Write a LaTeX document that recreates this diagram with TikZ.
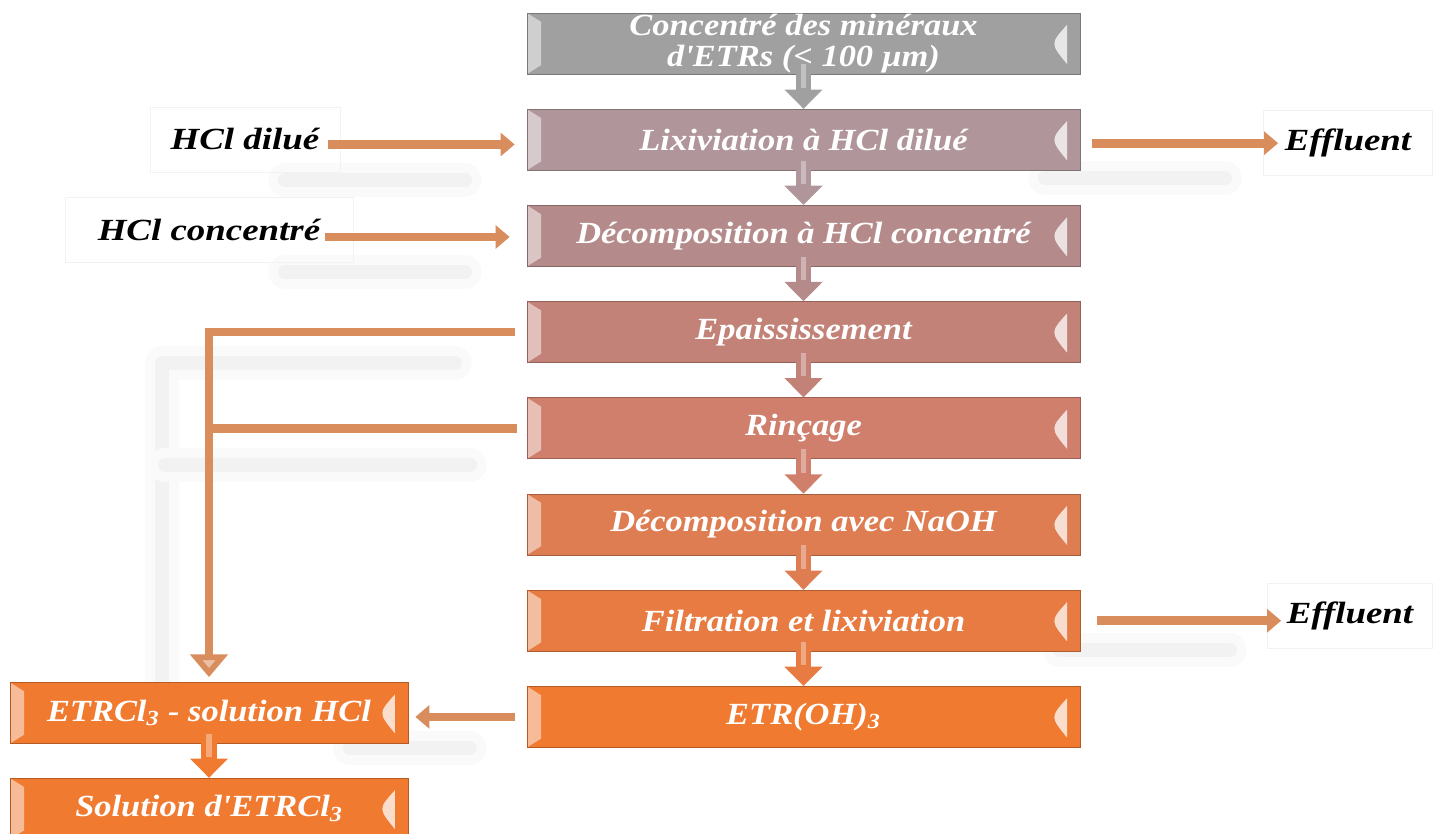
\documentclass[tikz,border=0pt]{standalone}
\usepackage{fontspec}
\setmainfont{Liberation Serif}
\newfontfamily\boxfont[FakeStretch=1.12]{Liberation Serif}
\newfontfamily\inletfont[FakeStretch=1.2]{Liberation Serif}
\usetikzlibrary{arrows.meta}
\usetikzlibrary{positioning}

\definecolor{mineral}{HTML}{A0A0A0}
\definecolor{lixiv}{HTML}{B0969A}
\definecolor{decompA}{HTML}{B48B8A}
\definecolor{epaiss}{HTML}{C38278}
\definecolor{rincage}{HTML}{CF7F6C}
\definecolor{decompB}{HTML}{DE7C52}
\definecolor{filtre}{HTML}{E77B41}
\definecolor{etroh}{HTML}{F07A30}
\definecolor{flux}{HTML}{D98C5C}

\tikzset{
  stage/.style={rectangle, fill=#1, draw=#1!75!black, minimum height=1.22cm, inner sep=0pt,
    text=white, align=center, font=\boxfont\fontsize{17.5}{18}\selectfont\bfseries\itshape,
    path picture={
      \fill[white, opacity=.5] (path picture bounding box.north west)
        -- ([shift={(8pt,-5pt)}]path picture bounding box.north west)
        -- ([shift={(8pt,5pt)}]path picture bounding box.south west)
        -- (path picture bounding box.south west) -- cycle;
      \fill[white, opacity=.75] ([shift={(-7.4pt,-6.8pt)}]path picture bounding box.north east)
        .. controls ([shift={(-17pt,0pt)}]path picture bounding box.east)
        .. ([shift={(-7.4pt,5.7pt)}]path picture bounding box.south east) -- cycle;
    }},
  main/.style={stage=#1, minimum width=11.06cm},
  aside/.style={stage=#1, minimum width=7.96cm},
  inlet/.style={draw=black!5, minimum height=1.3cm, font=\inletfont\fontsize{17.5}{20}\selectfont\bfseries\itshape},
  feed/.style={draw=flux, line width=5pt, -{Triangle[width=13pt,length=8pt]}},
  recycle/.style={draw=flux, line width=5pt},
  down/.style={draw=#1, line width=9pt, -{Triangle[width=21pt,length=11pt]},
    postaction={draw=white, draw opacity=.35, line width=3pt, -, shorten >=12pt}},
  shadowline/.style={line cap=round, line join=round, draw=black!5, line width=8pt,
    preaction={draw=black!3.5, line width=13pt, line cap=round, line join=round},
    preaction={draw=black!2, line width=19pt, line cap=round, line join=round}}
}

\begin{document}
\begin{tikzpicture}
\useasboundingbox (0,0) rectangle (28.74,16.68);

\draw[shadowline] (5.7,13.08) -- (9.3,13.08);
\draw[shadowline] (5.7,11.24) -- (9.3,11.24);
\draw[shadowline] (9.1,9.42) -- (3.24,9.42) -- (3.24,2.88);
\draw[shadowline] (3.3,7.38) -- (9.4,7.38);
\draw[shadowline] (20.9,13.12) -- (24.5,13.12);
\draw[shadowline] (21.2,3.68) -- (24.6,3.68);
\draw[shadowline] (7.0,1.72) -- (9.4,1.72);

\node[main=mineral] (conc) at (16.07,15.81) {Concentré des minéraux\\d\textquotesingle ETRs (< 100 µm)};
\node[main=lixiv, below=0.69cm of conc] (lixi) {Lixiviation à HCl dilué};
\node[main=decompA, below=0.69cm of lixi] (dhcl) {Décomposition à HCl concentré};
\node[main=epaiss, below=0.69cm of dhcl] (epai) {Epaississement};
\node[main=rincage, below=0.69cm of epai] (rinc) {Rinçage};
\node[main=decompB, below=0.69cm of rinc] (naoh) {Décomposition avec NaOH};
\node[main=filtre, below=0.69cm of naoh] (filt) {Filtration et lixiviation};
\node[main=etroh, below=0.69cm of filt] (hydr) {ETR(OH)\textsubscript{3}};

\node[aside=etroh] (etrcl) at (4.18,2.42) {ETRCl\textsubscript{3} - solution HCl};
\node[aside=etroh, below=0.68cm of etrcl] (sol) {Solution d\textquotesingle ETRCl\textsubscript{3}};

\node[inlet, minimum width=3.8cm] (hcldil) at (4.9,13.89) {HCl dilué};
\node[inlet, minimum width=5.76cm] (hclconc) at (4.18,12.08) {HCl concentré};
\node[inlet, minimum width=3.38cm] (eff1) at (26.96,13.83) {Effluent};
\node[inlet, minimum width=3.3cm] (eff2) at (27.0,4.36) {Effluent};

\draw[down=mineral] ([yshift=0.2cm]conc.south) -- (lixi.north);
\draw[down=lixiv] ([yshift=0.2cm]lixi.south) -- (dhcl.north);
\draw[down=decompA] ([yshift=0.2cm]dhcl.south) -- (epai.north);
\draw[down=epaiss] ([yshift=0.2cm]epai.south) -- (rinc.north);
\draw[down=rincage] ([yshift=0.2cm]rinc.south) -- (naoh.north);
\draw[down=decompB] ([yshift=0.2cm]naoh.south) -- (filt.north);
\draw[down=filtre] ([yshift=0.2cm]filt.south) -- (hydr.north);
\draw[down=etroh] ([yshift=0.2cm]etrcl.south) -- (sol.north);

\draw[feed, shorten <=-0.24cm, shorten >=0.24cm] ([yshift=-0.1cm]hcldil.east) -- ([yshift=-0.1cm]hcldil.east -| lixi.west);
\draw[feed, shorten <=-0.56cm, shorten >=0.34cm] ([yshift=-0.14cm]hclconc.east) -- ([yshift=-0.14cm]hclconc.east -| dhcl.west);
\draw[feed, shorten <=0.24cm, shorten >=-0.3cm] ([yshift=-0.07cm]lixi.east) -- ([yshift=-0.07cm]lixi.east -| eff1.west);
\draw[feed, shorten <=0.34cm, shorten >=-0.28cm] (filt.east) -- (filt.east -| eff2.west);
\draw[feed, shorten <=0.24cm, shorten >=0.14cm] (hydr.west) -- (hydr.west -| etrcl.east);

\draw[recycle, shorten <=0.24cm, shorten >=0.1cm, -{Triangle[width=21pt,length=13pt,fill=flux!55!white]}] (epai.west) -| (etrcl.north);
\draw[recycle, shorten <=0.2cm] (rinc.west) -- (rinc.west -| etrcl.north);

\end{tikzpicture}
\end{document}
